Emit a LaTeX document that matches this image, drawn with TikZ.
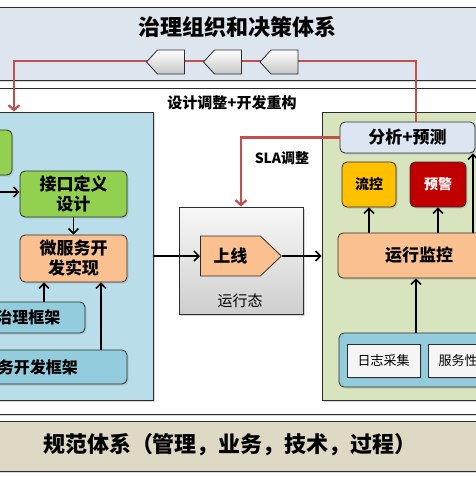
\documentclass[tikz,border=0pt]{standalone}
\usepackage{fontspec}
\setmainfont{Noto Sans CJK SC}
\usetikzlibrary{arrows.meta,shapes.symbols,shadows}

\definecolor{bandblue}{RGB}{221,229,239}
\definecolor{bandtan}{RGB}{221,217,196}
\definecolor{panelblue}{RGB}{185,222,233}
\definecolor{panelgreen}{RGB}{216,228,190}
\definecolor{boxgreen}{RGB}{146,208,80}
\definecolor{boxpeach}{RGB}{250,192,144}
\definecolor{boxblue}{RGB}{147,205,221}
\definecolor{boxgold}{RGB}{255,192,0}
\definecolor{boxred}{RGB}{192,0,0}
\definecolor{lightblue}{RGB}{220,230,242}
\definecolor{fbred}{RGB}{192,80,77}
\definecolor{edge}{RGB}{45,45,45}

\tikzset{
  panel/.style={draw=edge,line width=0.8pt,inner sep=0pt,
    drop shadow={opacity=0.3,shadow xshift=2pt,shadow yshift=-2pt}},
  box/.style={draw=edge,rounded corners=5pt,line width=0.8pt,inner sep=0pt,align=center,
    font=\bfseries\fontsize{17}{20}\selectfont,
    drop shadow={opacity=0.25,shadow xshift=1.5pt,shadow yshift=-1.5pt}},
  flow/.style={-{Straight Barb[length=5pt,width=10pt]},line width=1.5pt,draw=black},
  fb/.style={draw=fbred,line width=2.2pt},
  fbarrow/.style={fb,-{Straight Barb[length=5pt,width=11pt]}},
  chevron/.style={signal,signal to=west,signal pointer angle=95,draw=edge,line width=0.8pt,
    top color=white,bottom color=gray!45,minimum width=38,minimum height=24,inner sep=0pt}
}

\begin{document}
\begin{tikzpicture}[x=1pt,y=-1pt]
    \useasboundingbox (0,0) rectangle (476,477);
    \clip (0,0) rectangle (476,477);
    \fill[white] (0,0) rectangle (476,477);
    % bands
    \draw[panel,fill=bandblue] (-10,7) rectangle (486,80);
    \draw[panel,fill=white] (-10,88) rectangle (486,414);
    \draw[panel,fill=bandtan] (-10,421) rectangle (486,471);
    \node (title) at (237,27) {\bfseries\fontsize{22}{26}\selectfont 治理组织和决策体系};
    \node (design) at (232,103) {\bfseries\fontsize{15}{18}\selectfont 设计调整+开发重构};
    \node (norms) at (230,445) {\bfseries\fontsize{22}{26}\selectfont 规范体系（管理，业务，技术，过程）};
    % left panel
    \node[panel,fill=panelblue,minimum width=213,minimum height=288] (lpanel) at (46.5,256) {};
    \node[box,fill=boxgreen,minimum width=52,minimum height=45] (lgreen) at (-14,152.5) {};
    \node[box,fill=boxgreen,minimum width=107,minimum height=46] (iface) at (73.5,194) {接口定义\\设计};
    \node[box,fill=boxpeach,minimum width=107,minimum height=47] (impl) at (73.5,258.5) {微服务开\\发实现};
    \node[box,fill=boxblue,minimum width=145,minimum height=31,font=\bfseries\fontsize{16}{19}\selectfont] (govfw) at (12.5,317.5) {服务治理框架};
    \node[box,fill=boxblue,minimum width=210,minimum height=34,font=\bfseries\fontsize{16}{19}\selectfont] (devfw) at (22,367) {微服务开发框架};
    \coordinate (inL) at (-5,192);
    % middle
    \node[panel,top color=gray!6,bottom color=gray!38,minimum width=124,minimum height=107] (runbox) at (241,260.5) {};
    \node[signal,signal to=east,signal pointer angle=87,draw=edge,line width=0.8pt,fill=boxpeach,anchor=west,
      minimum width=81,minimum height=40,inner sep=0pt,font=\bfseries\fontsize{17}{20}\selectfont] (golive) at (200,256) {上线\hspace{12pt}};
    \node (runlbl) at (240,301) {\fontsize{15}{18}\selectfont 运行态};
    \node (sla) at (282,158) {\bfseries\fontsize{14}{17}\selectfont SLA调整};
    % right panel
    \node[panel,fill=panelgreen,minimum width=178,minimum height=288] (rpanel) at (411,256) {};
    \node[box,fill=lightblue,minimum width=135,minimum height=31] (ana) at (407.5,137.5) {分析+预测};
    \node[box,fill=boxgold,minimum width=54,minimum height=45,font=\bfseries\fontsize{14}{17}\selectfont] (flowctl) at (369,184.5) {流控};
    \node[box,fill=boxred,text=white,minimum width=56,minimum height=45,font=\bfseries\fontsize{14}{17}\selectfont] (alarm) at (438,184.5) {预警};
    \node[box,fill=boxpeach,minimum width=162,minimum height=45] (monitor) at (419,255.5) {运行监控};
    \node[box,fill=boxblue,minimum width=161,minimum height=54] (collect) at (419.5,360) {};
    \node[box,rounded corners=0pt,fill=gray!8,minimum width=73,minimum height=33,font=\fontsize{13}{16}\selectfont] (logbox) at (383.5,360.5) {日志采集};
    \node[box,rounded corners=0pt,fill=gray!8,minimum width=73,minimum height=33,font=\fontsize{13}{16}\selectfont] (perfbox) at (464.5,360.5) {服务性能};
    % black flows
    \draw[flow] (inL) -- (iface.west |- inL);
    \draw[flow] (iface.south) -- (impl.north);
    \draw[flow] ([xshift=31.5pt]govfw.north) -- ([xshift=31.5pt]govfw.north |- impl.south);
    \draw[flow] ([xshift=79pt]devfw.north) -- ([xshift=79pt]devfw.north |- impl.south);
    \draw[flow] (golive.west -| lpanel.east) -- (golive.west);
    \draw[flow] (golive.east) -- (golive.east -| rpanel.west);
    \draw[flow] (flowctl.south |- monitor.north) -- (flowctl.south);
    \draw[flow] (alarm.south |- monitor.north) -- (alarm.south);
    \draw[flow] ([xshift=65.5pt]ana.south |- monitor.north) -- ([xshift=65.5pt]ana.south);
    \draw[flow] ([xshift=-3.5pt]collect.north) -- ([xshift=-3.5pt]collect.north |- monitor.south);
    % red feedback
    \coordinate (fbR) at (416,61);
    \coordinate (fbL) at (14,61);
    \draw[fbarrow] (ana.north -| fbR) -- (fbR) -- (fbL) -- (fbL |- lpanel.north);
    \draw[fbarrow] (ana.west) -| (runbox.north);
    \node[chevron] (chev1) at (171,62) {};
    \node[chevron] (chev2) at (228,62) {};
    \node[chevron] (chev3) at (284.5,62) {};
\end{tikzpicture}
\end{document}
